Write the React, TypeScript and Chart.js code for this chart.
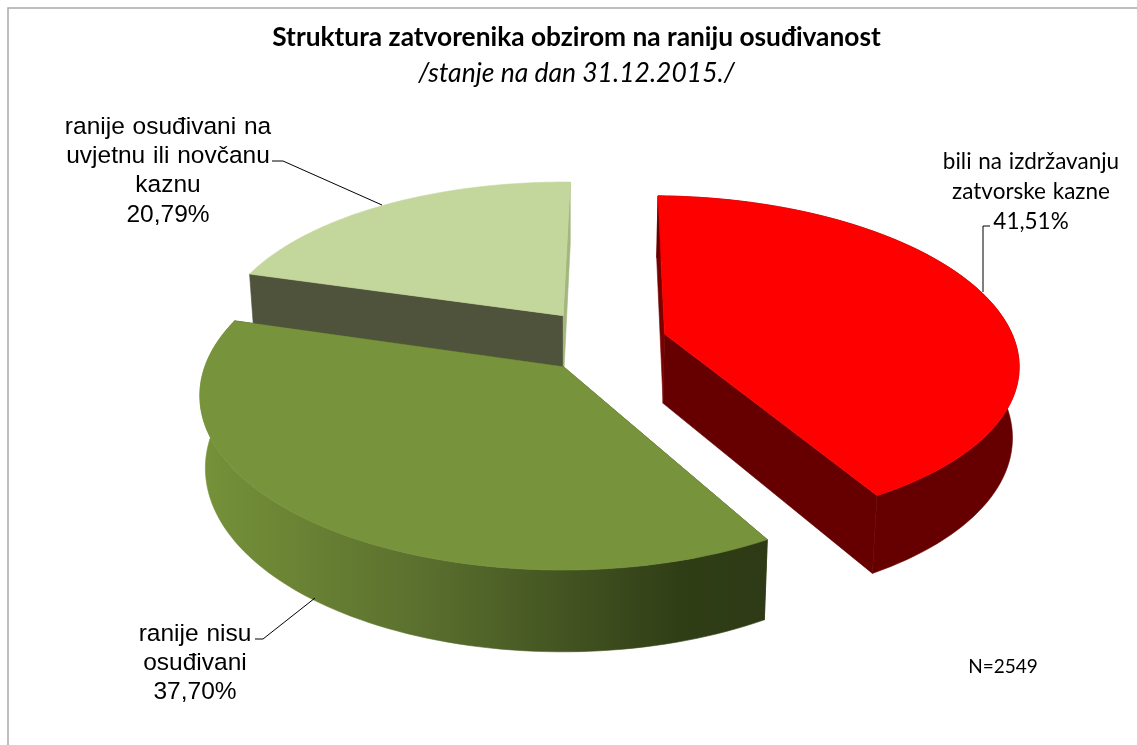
import React, { useEffect, useRef } from "react";
import { Chart, registerables } from "chart.js";

Chart.register(...registerables);

const categories = ["bili na izdržavanju|zatvorske kazne", "ranije nisu|osuđivani", "ranije osuđivani na|uvjetnu ili novčanu|kaznu"];
const shares = [41.51, 37.7, 20.79];
const topColors = ["#ff0000", "#77933c", "#c3d69b"];
const chartTitle = "Struktura zatvorenika obzirom na raniju osuđivanost";
const chartSubtitle = "/stanje na dan 31.12.2015./";
const note = "N=2549";

const view = { cx: 570, cy: 347, R: 352, aspect: 0.466, k: 0.159, depth: 70, q: 0.985 };
const explodeU = [0.272, -0.018, -0.02];
const explodeV = [-0.08, 0.118, -0.197];
const startWall = ["#7a0000", "#3a4a1a", "#4f533b"];
const endWall = ["#660000", "#2e3b15", "#a3b67e"];
const outerWall = ["#660000", "#2e3b15", "#4f533b"];
const paintOrder = [2, 0, 1];
const labelStyles = [
  { font: "22.5px Lato", x: 1031, ys: [162, 192, 222], spacing: 1 },
  { font: "24.5px 'Liberation Sans'", x: 195, ys: [634, 663, 692], spacing: 1 },
  { font: "24.5px 'Liberation Sans'", x: 168, ys: [127, 156, 185, 215], spacing: 1 },
];
const leaders = [
  [[990, 226], [983, 226], [983, 292]],
  [[255, 639], [263, 639], [315, 598]],
  [[272, 161], [283, 161], [382, 205]],
];

function project(u: number, v: number, low: boolean) {
  const { cx, cy, R, aspect, k, depth, q } = view;
  const p = 1 / (1 - k * v);
  let x = cx + u * R * p;
  let y = cy + v * R * aspect * p;
  if (low) {
    x = cx + (x - cx) * q;
    y = cy + (y - cy) * q + depth * p;
  }
  return { x, y };
}

function fillPath(ctx: CanvasRenderingContext2D, pts: { x: number; y: number }[], fill: string | CanvasGradient) {
  ctx.beginPath();
  pts.forEach((pt, i) => (i ? ctx.lineTo(pt.x, pt.y) : ctx.moveTo(pt.x, pt.y)));
  ctx.closePath();
  ctx.fillStyle = fill;
  ctx.strokeStyle = fill;
  ctx.lineWidth = 0.6;
  ctx.fill();
  ctx.stroke();
}

const pie3d = {
  id: "pie3d",
  beforeDraw(chart: any) {
    const ctx = chart.ctx;
    ctx.save();
    ctx.strokeStyle = "#a9a9a9";
    ctx.lineWidth = 1.5;
    ctx.strokeRect(8, 8, chart.width + 20, chart.height + 20);
    ctx.restore();
  },
  beforeDatasetDraw(chart: any) {
    const ctx = chart.ctx;
    const arcs = chart.getDatasetMeta(0).data;
    ctx.save();
    for (const i of paintOrder) {
      const arc = arcs[i];
      const su = explodeU[i];
      const sv = explodeV[i];
      const steps = 90;
      const rim: [number, number][] = [];
      let facesViewer = false;
      for (let s = 0; s <= steps; s++) {
        const a = arc.startAngle + ((arc.endAngle - arc.startAngle) * s) / steps;
        if (Math.sin(a) > 0) facesViewer = true;
        rim.push([su + Math.cos(a), sv + Math.sin(a)]);
      }
      const topRim = rim.map(([u, v]) => project(u, v, false));
      const lowRim = rim.map(([u, v]) => project(u, v, true));
      const apexT = project(su, sv, false);
      const apexL = project(su, sv, true);
      let side: string | CanvasGradient = outerWall[i];
      if (i === 1) {
        const g = ctx.createLinearGradient(199, 0, 765, 0);
        g.addColorStop(0, "#769239");
        g.addColorStop(0.4, "#5a6f2e");
        g.addColorStop(0.85, "#303e16");
        g.addColorStop(1, "#2d3a15");
        side = g;
      }
      fillPath(ctx, [apexT, topRim[0], lowRim[0], apexL], startWall[i]);
      fillPath(ctx, [apexT, topRim[steps], lowRim[steps], apexL], endWall[i]);
      if (facesViewer) fillPath(ctx, [...topRim, ...lowRim.slice().reverse()], side);
      fillPath(ctx, [apexT, ...topRim], arc.options.backgroundColor);
    }
    ctx.restore();
    return false;
  },
  afterDatasetsDraw(chart: any) {
    const ctx = chart.ctx;
    ctx.save();
    ctx.strokeStyle = "#000000";
    ctx.lineWidth = 1;
    for (const line of leaders) {
      ctx.beginPath();
      line.forEach(([x, y], i) => (i ? ctx.lineTo(x, y) : ctx.moveTo(x, y)));
      ctx.stroke();
    }
    ctx.fillStyle = "#000000";
    ctx.textAlign = "center";
    ctx.textBaseline = "middle";
    categories.forEach((cat, i) => {
      const st = labelStyles[i];
      const lines = [...cat.split("|"), shares[i].toFixed(2).replace(".", ",") + "%"];
      ctx.font = st.font;
      (ctx as any).wordSpacing = st.spacing + "px";
      lines.forEach((t, j) => ctx.fillText(t, st.x, st.ys[j]));
    });
    (ctx as any).wordSpacing = "0px";
    ctx.font = "19px Lato";
    ctx.fillText(note, 1003, 667);
    ctx.restore();
  },
};

export default function App() {
  const ref = useRef<HTMLCanvasElement>(null);
  useEffect(() => {
    const chart = new Chart(ref.current!, {
      type: "pie",
      data: {
        labels: categories.map((c) => c.replace(/\|/g, " ")),
        datasets: [{ data: shares, backgroundColor: topColors, borderWidth: 0 }],
      },
      options: {
        animation: false,
        responsive: false,
        rotation: 1.2,
        layout: { padding: { left: 16 } },
        plugins: {
          legend: { display: false },
          tooltip: { enabled: false },
          title: {
            display: true,
            text: chartTitle,
            color: "#000000",
            font: { family: "Lato", size: 26.3, weight: "bold" },
            padding: { top: 22, bottom: 4 },
          },
          subtitle: {
            display: true,
            text: chartSubtitle,
            color: "#000000",
            font: { family: "Lato", size: 26.5, style: "italic", weight: "normal" },
            padding: { bottom: 10 },
          },
        },
      },
      plugins: [pie3d],
    } as any);
    return () => chart.destroy();
  }, []);
  return (
    <div style={{ position: "absolute", left: 0, top: 0, width: 1137, height: 745, overflow: "hidden", background: "#fff" }}>
      <canvas ref={ref} width={1137} height={745} style={{ display: "block" }} />
    </div>
  );
}
